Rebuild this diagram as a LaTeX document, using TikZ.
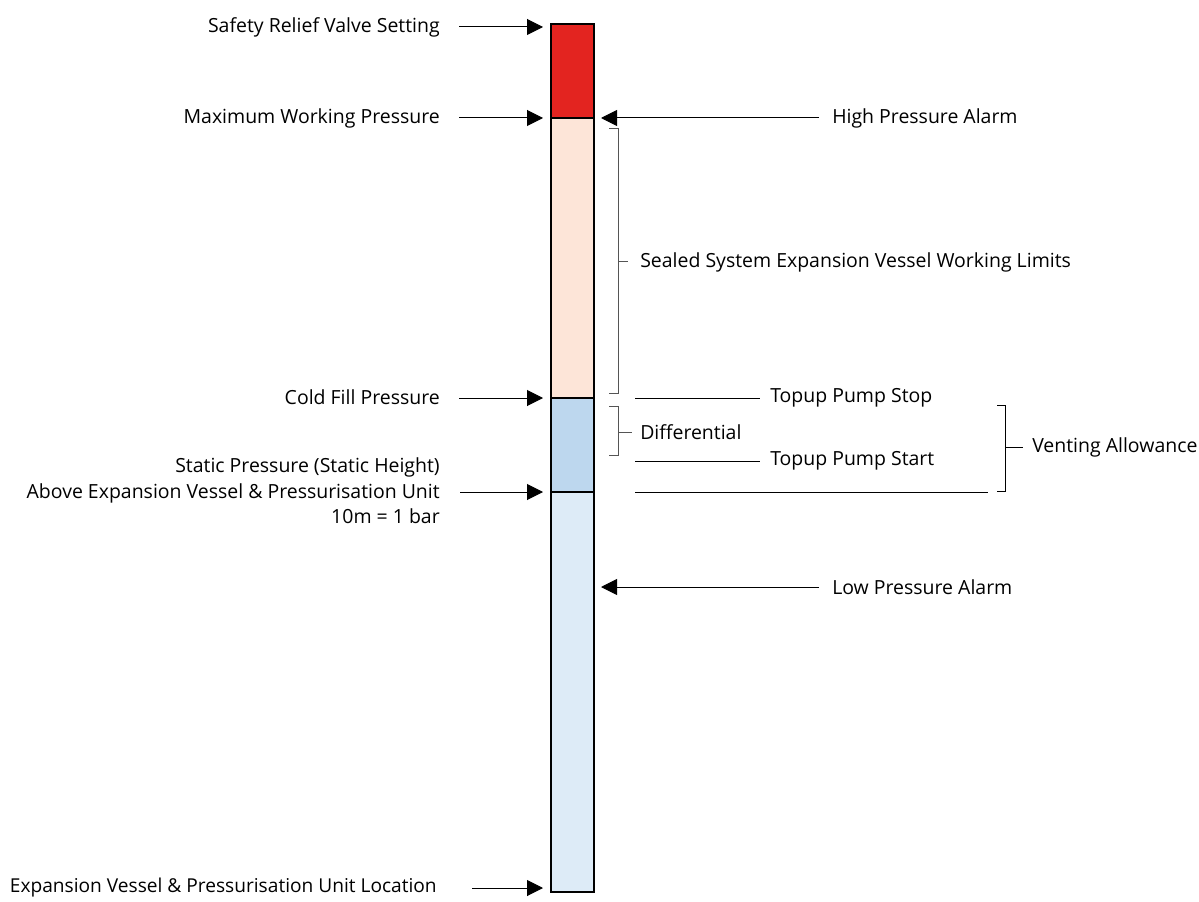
\documentclass[tikz,border=0pt]{standalone}
\usepackage{fontspec}
\setmainfont{Open Sans}
\usetikzlibrary{arrows.meta}
\definecolor{cred}{HTML}{E32420}
\definecolor{cpeach}{HTML}{FDE5D8}
\definecolor{cblue}{HTML}{BDD7EE}
\definecolor{clight}{HTML}{DDEBF7}
\definecolor{cgray}{HTML}{555555}
\tikzset{
  lbl/.style={inner sep=0pt, font=\fontsize{14.6}{19}\selectfont},
  arr/.style={line width=0.75pt, -{Triangle[length=12pt,width=12pt]}},
  thin/.style={line width=0.75pt},
  brk/.style={line width=0.75pt, cgray},
  seg/.style={line width=1.1pt, draw=black}
}
\begin{document}
\begin{tikzpicture}[x=0.75pt,y=-0.75pt]
\useasboundingbox (0,0) rectangle (1199,902);
% bar
\filldraw[seg, fill=cred] (551,24) rectangle (594,118);
\filldraw[seg, fill=cpeach] (551,118) rectangle (594,398);
\filldraw[seg, fill=cblue] (551,398) rectangle (594,492);
\filldraw[seg, fill=clight] (551,492) rectangle (594,892);
% left labels
\node[lbl, anchor=east] (srv) at (440,27) {Safety Relief Valve Setting};
\node[lbl, anchor=east] (mwp) at (440,118) {Maximum Working Pressure};
\node[lbl, anchor=east] (cfp) at (440,397) {Cold Fill Pressure};
\node[lbl, anchor=east, align=right] (stp) at (440,491) {Static Pressure (Static Height)\\Above Expansion Vessel \& Pressurisation Unit\\10m = 1 bar};
\node[lbl, anchor=east, font=\fontsize{14.35}{19}\selectfont] (loc) at (437,888) {Expansion Vessel \& Pressurisation Unit Location};
\coordinate (srvS) at (459,27); \coordinate (srvT) at (543,27);
\coordinate (mwpS) at (459,118); \coordinate (mwpT) at (543,118);
\coordinate (cfpS) at (459,398); \coordinate (cfpT) at (543,398);
\coordinate (stpS) at (460,492); \coordinate (stpT) at (543,492);
\coordinate (locS) at (472,888); \coordinate (locT) at (543,888);
\draw[arr] (srvS) -- (srvT);
\draw[arr] (mwpS) -- (mwpT);
\draw[arr] (cfpS) -- (cfpT);
\draw[arr] (stpS) -- (stpT);
\draw[arr] (locS) -- (locT);
% right arrows
\node[lbl, anchor=west] (hpa) at (832,118) {High Pressure Alarm};
\node[lbl, anchor=west] (lpa) at (832,587) {Low Pressure Alarm};
\coordinate (hpaS) at (819,118); \coordinate (hpaT) at (601,118);
\coordinate (lpaS) at (819,587); \coordinate (lpaT) at (601,587);
\draw[arr] (hpaS) -- (hpaT);
\draw[arr] (lpaS) -- (lpaT);
% sealed system bracket
\node[lbl, anchor=west] (ssl) at (640,262) {Sealed System Expansion Vessel Working Limits};
\coordinate (ssT) at (609,129); \coordinate (ssB) at (609,393); \coordinate (ssM) at (618,262);
\draw[brk] (ssT) -- ++(9,0) |- (ssB);
\draw[brk] (ssM) -- ++(10,0);
% differential bracket
\node[lbl, anchor=west] (dif) at (640,432) {Differential};
\coordinate (dfT) at (609,406); \coordinate (dfB) at (609,455); \coordinate (dfM) at (618,432);
\draw[brk] (dfT) -- ++(9,0) |- (dfB);
\draw[brk] (dfM) -- ++(14,0);
% topup lines
\node[lbl, anchor=west] (tps) at (770,398) {Topup Pump Stop};
\node[lbl, anchor=west] (tpt) at (770,461) {Topup Pump Start};
\coordinate (tpsS) at (635,398); \coordinate (tpsE) at (760,398);
\coordinate (tptS) at (635,461); \coordinate (tptE) at (760,461);
\coordinate (vlS) at (635,492); \coordinate (vlE) at (988,492);
\draw[thin] (tpsS) -- (tpsE);
\draw[thin] (tptS) -- (tptE);
\draw[thin] (vlS) -- (vlE);
% venting bracket
\node[lbl, anchor=west] (ven) at (1032,447) {Venting Allowance};
\coordinate (vnT) at (997,405); \coordinate (vnB) at (997,491); \coordinate (vnM) at (1005,447);
\draw[thin] (vnT) -- ++(8,0) |- (vnB);
\draw[thin] (vnM) -- ++(18,0);
\end{tikzpicture}
\end{document}
